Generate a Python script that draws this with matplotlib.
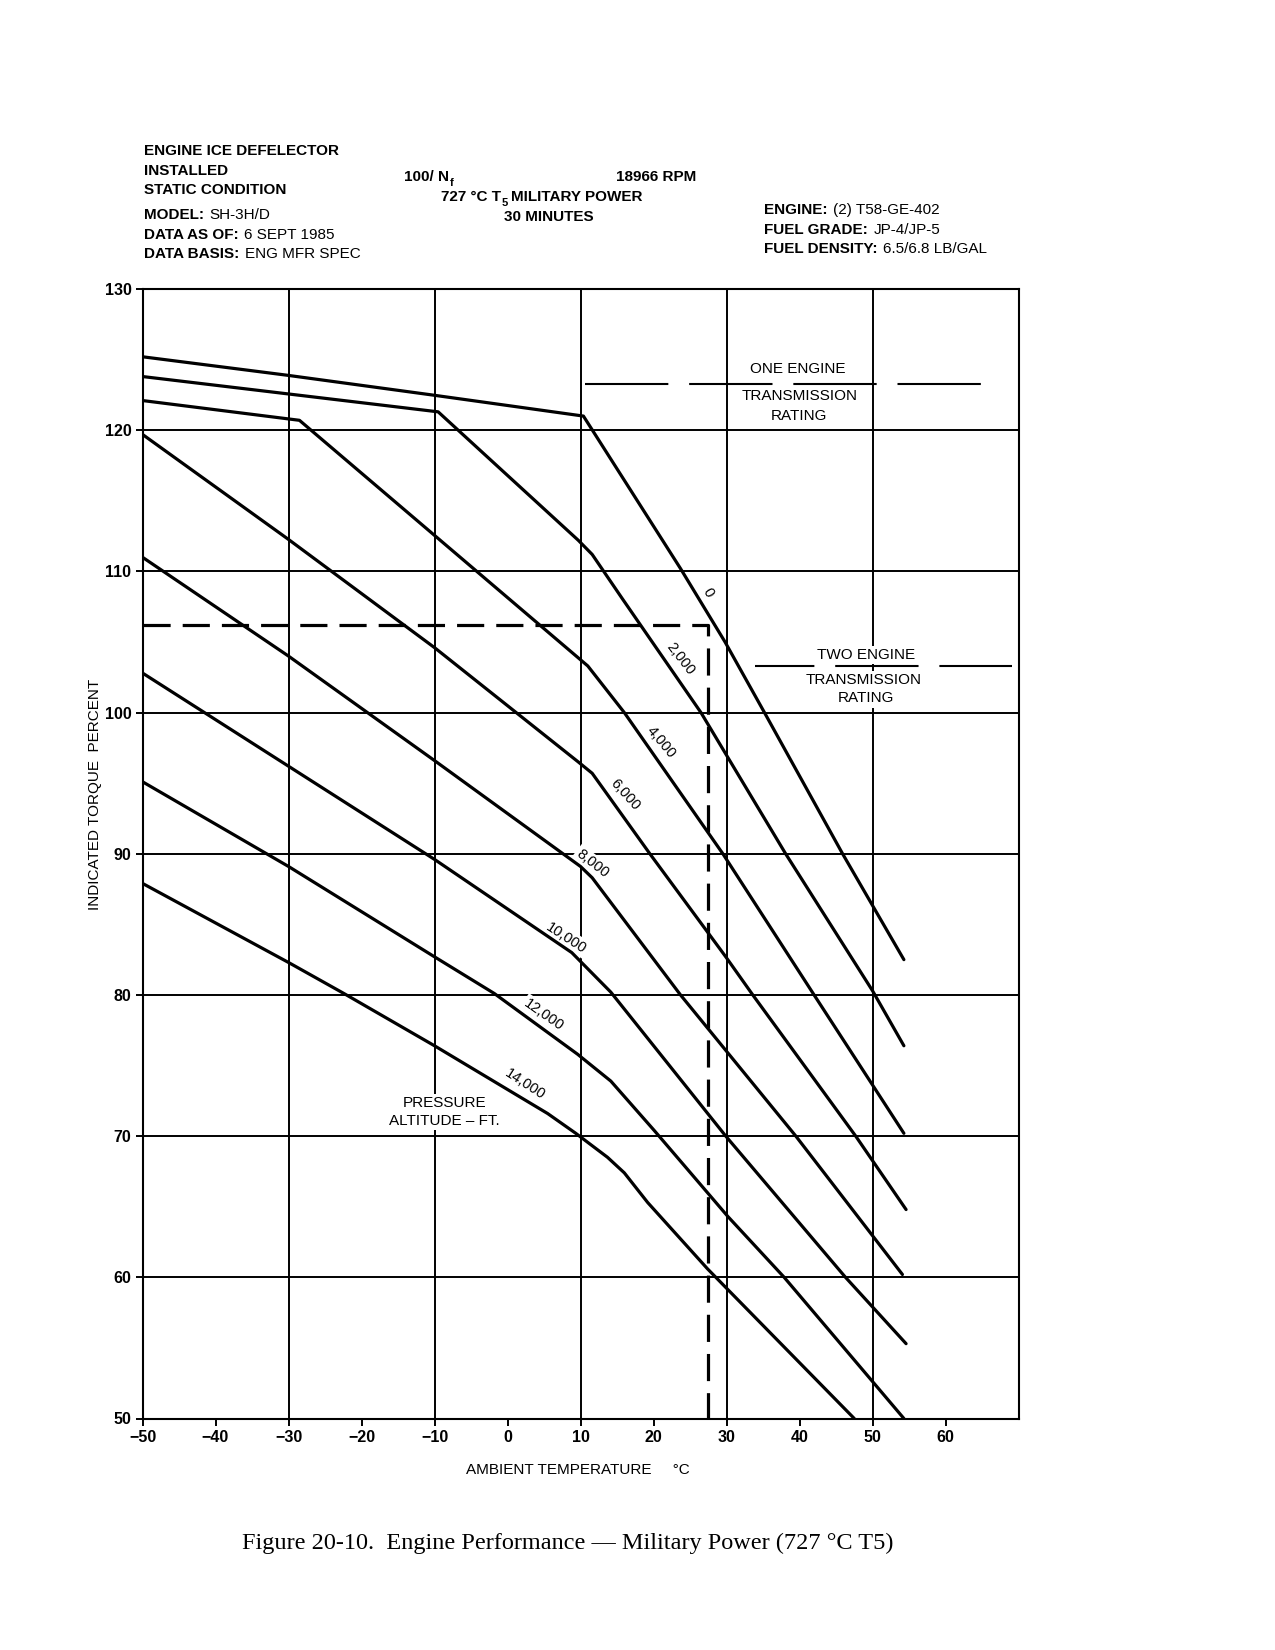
import matplotlib
matplotlib.use("Agg")
import matplotlib.pyplot as plt
import numpy as np

plt.rcParams['font.family'] = ['Liberation Sans', 'DejaVu Sans']

W, H = 1275, 1650

# ambient temperature (deg C) / indicated torque (%), one pair per altitude
alt_names = ['0', '2,000', '4,000', '6,000', '8,000', '10,000', '12,000', '14,000']

t_0 = [-50, -30.3, -10.4, 10.4, 23.7, 29.8, 35.2, 45.9, 54.3]
q_0 = [125.2, 123.9, 122.5, 121.0, 110.2, 105.0, 100.0, 90.0, 82.5]

t_2000 = [-50, -9.5, 9.7, 11.6, 15.75, 26.5, 38.1, 50.0, 54.3]
q_2000 = [123.8, 121.3, 112.2, 111.2, 108.05, 100.0, 90.0, 80.3, 76.4]

t_4000 = [-50, -28.5, 11.0, 16.0, 29.5, 42.0, 54.3]
q_4000 = [122.1, 120.7, 103.3, 100.0, 90.0, 80.0, 70.2]

t_6000 = [-50, -30.1, -10, 9.7, 11.6, 19.5, 29.9, 33.6, 47.7, 54.6]
q_6000 = [119.7, 112.3, 104.6, 96.5, 95.7, 90.0, 82.7, 80.0, 70.0, 64.8]

t_8000 = [-50, -30, -10, 10, 11.6, 23.7, 39.5, 54.1]
q_8000 = [111.0, 104.0, 96.6, 89.1, 88.3, 80.0, 70.0, 60.2]

t_10000 = [-50, -30, -10, 8.8, 14.15, 29.9, 46.3, 54.6]
q_10000 = [102.8, 96.2, 89.6, 83.0, 80.2, 70.0, 60.0, 55.3]

t_12000 = [-50, -30, -10, -1.8, 9.6, 14.15, 20.1, 30.2, 37.9, 54.3]
q_12000 = [95.1, 89.1, 82.7, 80.1, 75.8, 73.9, 70.4, 64.3, 60.0, 50.0]

t_14000 = [-50, -30, -22.4, -10, 5.5, 9.35, 13.7, 16.0, 19.2, 27.4, 47.5]
q_14000 = [87.9, 82.3, 80.1, 76.4, 71.6, 70.2, 68.5, 67.4, 65.3, 60.6, 50.0]

curves_t = [t_0, t_2000, t_4000, t_6000, t_8000, t_10000, t_12000, t_14000]
curves_q = [q_0, q_2000, q_4000, q_6000, q_8000, q_10000, q_12000, q_14000]

# where each altitude label sits and how it is turned
label_t = [27.45, 23.74, 21.0, 16.07, 11.64, 8.08, 5.0, 2.37]
label_q = [108.5, 103.8, 97.9, 94.2, 89.3, 84.05, 78.6, 73.7]
label_rot = [-60, -52, -50, -48, -38, -33, -35, -33]

# example line: 27.5 deg C -> 106.2 %
ex_t, ex_q = 27.5, 106.2

one_eng_q, one_eng_t = 123.3, [10.6, 65.2]
two_eng_q, two_eng_t = 103.3, [33.9, 69.1]

fig = plt.figure(figsize=(W / 100, H / 100), dpi=100)
ax = fig.add_axes([142.5 / W, 1 - 1418.5 / H, 876 / W, (1418.5 - 289) / H])
ax.set_xlim(-50, 70)
ax.set_ylim(50, 130)

for v in range(60, 130, 10):
    ax.axhline(v, color='black', lw=1.4, zorder=1)
for v in range(-30, 70, 20):
    ax.axvline(v, color='black', lw=1.4, zorder=1)
for s in ax.spines.values():
    s.set_linewidth(1.5)

for t, q in zip(curves_t, curves_q):
    ax.plot(t, q, color='black', lw=2.3, solid_capstyle='round', solid_joinstyle='round', zorder=4)

wbox = dict(facecolor='white', edgecolor='none', pad=1.5)
for name, x, y, r in zip(alt_names, label_t, label_q, label_rot):
    ax.text(x, y, name, rotation=r, rotation_mode='anchor', ha='center', va='center',
            fontsize=10.5, bbox=wbox, zorder=3)

# example dashed path (gap tuned so the path ends on a dash at the bottom axis)
ax.plot([-50, ex_t, ex_t], [ex_q, ex_q, 50], color='black', lw=2.3,
        linestyle=(0, (8.5, 3.77)), zorder=3.5)

# transmission limits
ax.plot(one_eng_t, [one_eng_q] * 2, color='black', lw=1.5, linestyle=(0, (40, 10)), zorder=3.5)
ax.plot(two_eng_t, [two_eng_q] * 2, color='black', lw=1.5, linestyle=(11.5, (40, 10)), zorder=3.5)

tfs = 11
ax.text(39.7, 124.3, 'ONE ENGINE', ha='center', va='center', fontsize=tfs, zorder=3)
ax.text(39.95, 122.4, 'TRANSMISSION', ha='center', va='center', fontsize=tfs, bbox=wbox, zorder=3)
ax.text(39.95, 121.0, 'RATING', ha='center', va='center', fontsize=tfs, bbox=wbox, zorder=3)
ax.text(49.1, 104.1, 'TWO ENGINE', ha='center', va='center', fontsize=tfs, bbox=wbox, zorder=3)
ax.text(48.85, 102.3, 'TRANSMISSION', ha='center', va='center', fontsize=tfs, bbox=wbox, zorder=3)
ax.text(49.1, 101.0, 'RATING', ha='center', va='center', fontsize=tfs, bbox=wbox, zorder=3)
ax.text(-8.6, 71.7, 'PRESSURE\nALTITUDE \u2013 FT.', ha='center', va='center', fontsize=tfs,
        linespacing=1.3, bbox=wbox, zorder=3)

ax.set_xticks(np.arange(-50, 61, 10))
ax.set_yticks(np.arange(50, 131, 10))
ax.tick_params(direction='out', length=5, width=1.4, labelsize=11.5, pad=3)
for lab in ax.get_xticklabels() + ax.get_yticklabels():
    lab.set_fontweight('bold')

fig.text(94.5 / W, 1 - 794 / H, 'INDICATED TORQUE  PERCENT', rotation=90, ha='center', va='center',
         fontsize=11)
fig.text(578 / W, 1 - 1470 / H, 'AMBIENT TEMPERATURE     \u00b0C', ha='center', va='center', fontsize=11)


def put(x, y, s, bold=False, size=11, ha='left'):
    return fig.text(x / W, 1 - y / H, s, ha=ha, va='center', fontsize=size,
                    fontweight='bold' if bold else 'normal')


def after(prev, s, dx=4, dy=0, size=11, bold=False):
    return ax.annotate(s, xy=(1, 0), xycoords=prev, xytext=(dx, dy), textcoords='offset points',
                       ha='left', va='bottom', fontsize=size, fontweight='bold' if bold else 'normal',
                       annotation_clip=False)


put(144, 151.3, 'ENGINE ICE DEFELECTOR', bold=True)
put(144, 171.4, 'INSTALLED', bold=True)
put(144, 190.5, 'STATIC CONDITION', bold=True)
after(put(144, 214.9, 'MODEL:', bold=True), 'SH-3H/D')
after(put(144, 235.0, 'DATA AS OF:', bold=True), '6 SEPT 1985')
after(put(144, 254.1, 'DATA BASIS:', bold=True), 'ENG MFR SPEC')

n = put(404, 176.7, '100/ N', bold=True)
after(n, 'f', dx=0.5, dy=-3, size=8, bold=True)
put(696.6, 176.7, '18966 RPM', bold=True, ha='right')
a = put(441, 196.9, '727 \u00b0C T', bold=True)
a = after(a, '5', dx=0.5, dy=-3, size=8, bold=True)
after(a, 'MILITARY POWER', dx=2, dy=3, bold=True)
put(549, 217, '30 MINUTES', bold=True, ha='center')

after(put(764, 209.6, 'ENGINE:', bold=True), '(2) T58-GE-402')
after(put(764, 229.7, 'FUEL GRADE:', bold=True), 'JP-4/JP-5')
after(put(764, 248.8, 'FUEL DENSITY:', bold=True), '6.5/6.8 LB/GAL')

fig.text(568 / W, 1 - 1543 / H, 'Figure 20-10.  Engine Performance \u2014 Military Power (727 \u00b0C T5)',
         ha='center', va='center', fontsize=17.5, family=['Liberation Serif', 'DejaVu Serif'])

fig.savefig('out.png', dpi=100)
